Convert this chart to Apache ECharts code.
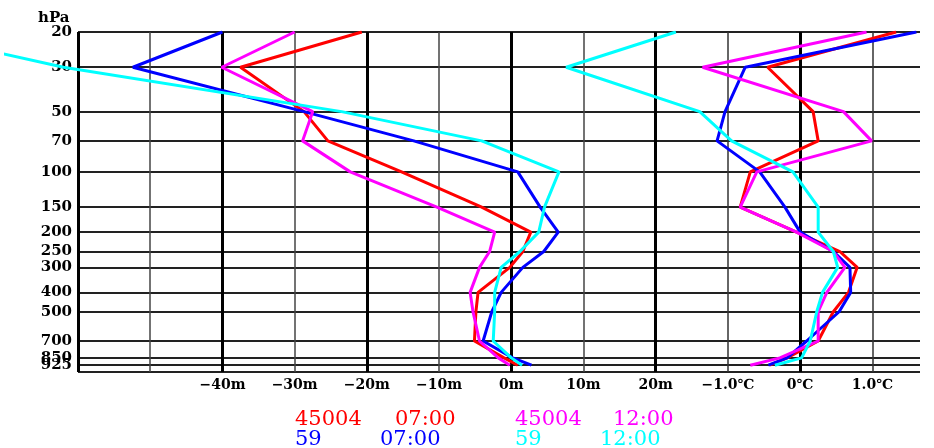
<!DOCTYPE html>
<html>
<head>
<meta charset="utf-8">
<script src="https://cdn.jsdelivr.net/npm/echarts@6/dist/echarts.min.js"></script>
<style>
  html, body { margin: 0; padding: 0; background: #fff; }
  #chart { width: 934px; height: 448px; }
</style>
</head>
<body>
<div id="chart"></div>
<script>
// Pressure levels (hPa) of each profile point
const levels = [20, 30, 50, 70, 100, 150, 200, 250, 300, 400, 500, 700, 850, 925];
// Horizontal grid lines; the last one closes the plot at the bottom
const pressureLines = [20, 30, 50, 70, 100, 150, 200, 250, 300, 400, 500, 700, 850, 925, 1000];
const pressureLabels = ['20', '30', '50', '70', '100', '150', '200', '250', '300', '400', '500', '700', '850', '925', ''];

// Frame of the diagram, in metres (left edge) and right end of the level lines
const frameLeft = -60;
const frameRight = 56.6;

// Vertical grid lines, in metres and in degrees
const metreLines = [-60, -50, -40, -30, -20, -10, 0, 10, 20];
const metreBold = [-60, -40, -20, 0, 20];
const metreTicks = [-40, -30, -20, -10, 0, 10, 20];
const tempLines = [-1, 0, 1];
const tempBold = [0];
const tempTicks = [-1, 0, 1];

// Geopotential height differences (m)
const hgt_45004_07 = [-20.7, -37.5, -28.7, -25.4, -15.2, -4.1, 2.7, 1.6, -0.2, -4.6, -4.9, -5.1, -1.0, 0.9];
const hgt_59_07    = [-40.0, -52.4, -28.7, -13.5, 0.9, 4.0, 6.5, 4.5, 1.6, -1.4, -2.7, -3.9, 0.2, 2.8];
const hgt_45004_12 = [-30.0, -40.1, -27.5, -28.9, -22.3, -10.3, -2.3, -3.0, -4.4, -5.7, -5.3, -4.4, -1.8, -0.2];
const hgt_59_12    = [-84.0, -62.0, -23.5, -4.1, 6.6, 4.6, 3.8, 1.2, -1.4, -2.3, -2.3, -2.5, 0.0, 1.5];

// Temperature differences (°C)
const tmp_45004_07 = [1.33, -0.45, 0.18, 0.25, -0.69, -0.83, -0.05, 0.55, 0.79, 0.67, 0.46, 0.25, -0.18, -0.42];
const tmp_59_07    = [1.61, -0.76, -1.04, -1.15, -0.56, -0.21, 0.0, 0.46, 0.69, 0.70, 0.54, 0.09, -0.18, -0.44];
const tmp_45004_12 = [0.92, -1.35, 0.60, 0.99, -0.60, -0.83, -0.05, 0.46, 0.62, 0.37, 0.25, 0.25, -0.28, -0.69];
const tmp_59_12    = [-1.72, -3.24, -1.39, -0.95, -0.10, 0.25, 0.25, 0.46, 0.52, 0.31, 0.23, 0.14, 0.02, -0.35];

const RED = '#ff0000', BLUE = '#0000ff', MAGENTA = '#ff00ff', CYAN = '#00ffff';

// Legend rows: station, time, colour
const legendRows = [
  [{ t: '45004', c: RED, x: 295 }, { t: '07:00', c: RED, x: 395 }, { t: '45004', c: MAGENTA, x: 515 }, { t: '12:00', c: MAGENTA, x: 613 }],
  [{ t: '59', c: BLUE, x: 295 }, { t: '07:00', c: BLUE, x: 380 }, { t: '59', c: CYAN, x: 515 }, { t: '12:00', c: CYAN, x: 600 }]
];

const pair = (vals) => vals.map((v, i) => [v, levels[i]]);
const fmtMinus = (s) => s.replace('-', '\u2212');

// Level lines run from the left frame to the right end, labelled on the left
const hLines = pressureLines.map((p, i) => {
  const style = { color: '#222', width: 2, type: 'solid' };
  const label = { show: pressureLabels[i] !== '', formatter: pressureLabels[i] };
  return [
    { xAxis: frameLeft, yAxis: p, lineStyle: style, label },
    { xAxis: frameRight, yAxis: p, lineStyle: style, label }
  ];
});
const vMetre = metreLines.map(v => ({
  xAxis: v,
  lineStyle: { color: metreBold.includes(v) ? '#000' : '#444', width: metreBold.includes(v) ? 3 : 1.5, type: 'solid' },
  label: { show: false }
}));
const vTemp = tempLines.map(v => ({
  xAxis: v,
  lineStyle: { color: tempBold.includes(v) ? '#000' : '#333', width: tempBold.includes(v) ? 3 : 1.5, type: 'solid' },
  label: { show: false }
}));

const gridMarks = {
  silent: true, symbol: ['none', 'none'], z: 1, animation: false,
  label: {
    position: 'start', distance: 6, color: '#000',
    fontFamily: 'DejaVu Serif', fontWeight: 'bold', fontSize: 15
  },
  data: hLines.concat(vMetre)
};
const tempMarks = {
  silent: true, symbol: ['none', 'none'], z: 1, animation: false,
  data: vTemp
};

function profile(name, data, color, xi, marks) {
  const s = {
    name, type: 'line', xAxisIndex: xi, data: pair(data),
    showSymbol: false, symbol: 'none', clip: true, z: 3,
    lineStyle: { color, width: 3 }, itemStyle: { color },
    animation: false
  };
  if (marks) s.markLine = marks;
  return s;
}

const xLabel = {
  margin: 6, color: '#000', fontFamily: 'DejaVu Serif', fontWeight: 'bold', fontSize: 14,
  showMinLabel: false, showMaxLabel: false
};

const chart = echarts.init(document.getElementById('chart'), null, { renderer: 'canvas' });
chart.setOption({
  backgroundColor: '#fff',
  // the plot area reaches a little left of the frame so long profiles run out past it
  grid: { left: 5.8, right: 14, top: 32, bottom: 76 },
  xAxis: [
    {
      type: 'value', position: 'bottom', min: -70, max: frameRight, interval: 10,
      axisLine: { show: false }, axisTick: { show: false }, splitLine: { show: false },
      axisLabel: Object.assign({}, xLabel, {
        formatter: v => metreTicks.includes(v) ? fmtMinus(v + 'm') : ''
      })
    },
    {
      type: 'value', position: 'bottom', min: -11, max: (frameRight - 40) / 10, interval: 1,
      axisLine: { show: false }, axisTick: { show: false }, splitLine: { show: false },
      axisLabel: Object.assign({}, xLabel, {
        formatter: v => tempTicks.includes(v) ? fmtMinus(v === 0 ? '0\u2103' : v.toFixed(1) + '\u2103') : ''
      })
    }
  ],
  yAxis: {
    type: 'log', min: 20, max: 1000, inverse: true,
    axisLine: { show: false }, axisTick: { show: false },
    axisLabel: { show: false }, splitLine: { show: false }, minorSplitLine: { show: false }
  },
  series: [
    profile('45004 07:00 hgt', hgt_45004_07, RED, 0, gridMarks),
    profile('59 07:00 hgt', hgt_59_07, BLUE, 0),
    profile('45004 12:00 hgt', hgt_45004_12, MAGENTA, 0),
    profile('59 12:00 hgt', hgt_59_12, CYAN, 0),
    profile('45004 07:00 tmp', tmp_45004_07, RED, 1, tempMarks),
    profile('59 07:00 tmp', tmp_59_07, BLUE, 1),
    profile('45004 12:00 tmp', tmp_45004_12, MAGENTA, 1),
    profile('59 12:00 tmp', tmp_59_12, CYAN, 1)
  ],
  graphic: [
    {
      type: 'text', left: 38, top: 11,
      style: { text: 'hPa', fill: '#000', font: 'bold 15px "DejaVu Serif"' }
    }
  ].concat(legendRows.flatMap((row, r) => row.map(item => ({
    type: 'text', left: item.x, top: 409 + r * 20,
    style: { text: item.t, fill: item.c, font: '21px "DejaVu Serif"' }
  }))))
});
</script>
</body>
</html>
